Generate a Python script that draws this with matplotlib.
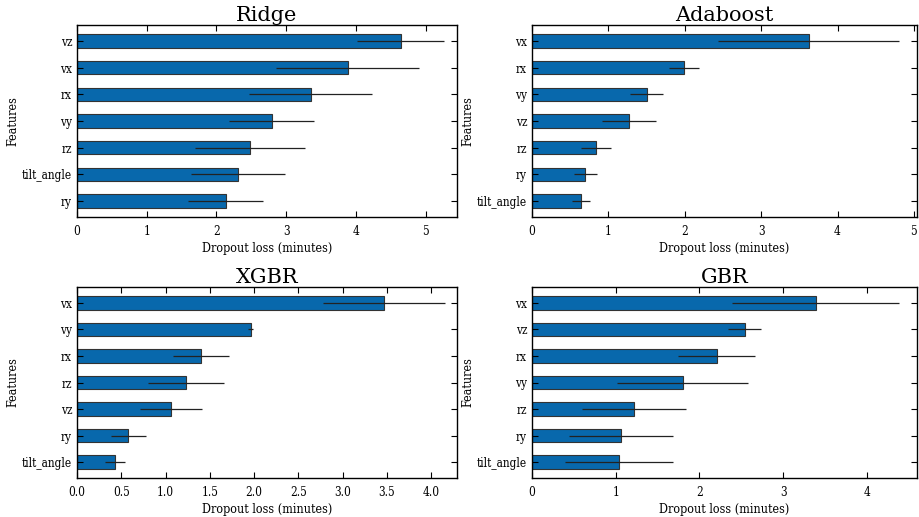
import matplotlib.pyplot as plt

# feature importance by dropout loss, one panel per model
# lists are ordered bottom -> top as drawn by barh
ridge_feats = ['ry', 'tilt_angle', 'rz', 'vy', 'rx', 'vx', 'vz']
ridge_loss = [2.13, 2.31, 2.48, 2.79, 3.35, 3.88, 4.64]
ridge_err = [0.54, 0.68, 0.79, 0.61, 0.88, 1.03, 0.63]

ada_feats = ['tilt_angle', 'ry', 'rz', 'vz', 'vy', 'rx', 'vx']
ada_loss = [0.64, 0.70, 0.84, 1.27, 1.50, 1.99, 3.62]
ada_err = [0.12, 0.15, 0.20, 0.35, 0.22, 0.20, 1.19]

xgb_feats = ['tilt_angle', 'ry', 'vz', 'rz', 'rx', 'vy', 'vx']
xgb_loss = [0.43, 0.58, 1.06, 1.235, 1.40, 1.96, 3.47]
xgb_err = [0.11, 0.20, 0.35, 0.43, 0.32, 0.03, 0.69]

gbr_feats = ['tilt_angle', 'ry', 'rz', 'vy', 'rx', 'vz', 'vx']
gbr_loss = [1.04, 1.06, 1.22, 1.80, 2.21, 2.54, 3.39]
gbr_err = [0.64, 0.62, 0.62, 0.78, 0.46, 0.20, 1.00]

panels = [
    ('Ridge', ridge_feats, ridge_loss, ridge_err, 5.45, None),
    ('Adaboost', ada_feats, ada_loss, ada_err, 5.04, None),
    ('XGBR', xgb_feats, xgb_loss, xgb_err, 4.29, 0.5),
    ('GBR', gbr_feats, gbr_loss, gbr_err, 4.60, None),
]

plt.rcParams['font.family'] = 'DejaVu Serif'
plt.rcParams['font.stretch'] = 'condensed'

fig = plt.figure(figsize=(9.2, 5.17), dpi=100)
boxes = [
    [77/920, 1 - 217/517, 380/920, 192/517],
    [532/920, 1 - 217/517, 385/920, 192/517],
    [77/920, 1 - 478/517, 380/920, 191/517],
    [532/920, 1 - 478/517, 385/920, 191/517],
]

for (name, feats, loss, err, xmax, step), box in zip(panels, boxes):
    ax = fig.add_axes(box)
    ypos = range(len(feats))
    ax.barh(ypos, loss, height=0.5, color='#0868ac', edgecolor='#333333',
            linewidth=0.8, xerr=err,
            error_kw=dict(ecolor='#222222', elinewidth=0.9, capsize=0))
    ax.set_yticks(list(ypos))
    ax.set_yticklabels(feats)
    ax.set_ylim(-0.6, 6.6)
    ax.set_xlim(0, xmax)
    if step:
        ax.set_xticks([i * step for i in range(9)])
        ax.set_xticklabels([f'{i * step:.1f}' for i in range(9)])
    ax.tick_params(axis='both', direction='in', top=True, right=True,
                   labelsize=8.5, length=4, width=0.8)
    ax.tick_params(axis='x', pad=6)
    ax.set_title(name, fontsize=15, pad=3, fontstretch='normal')
    ax.set_xlabel('Dropout loss (minutes)', fontsize=9, labelpad=3)
    ax.set_ylabel('Features', fontsize=9, labelpad=2)
    for s in ax.spines.values():
        s.set_linewidth(1.0)

fig.savefig('out.png', dpi=100)
